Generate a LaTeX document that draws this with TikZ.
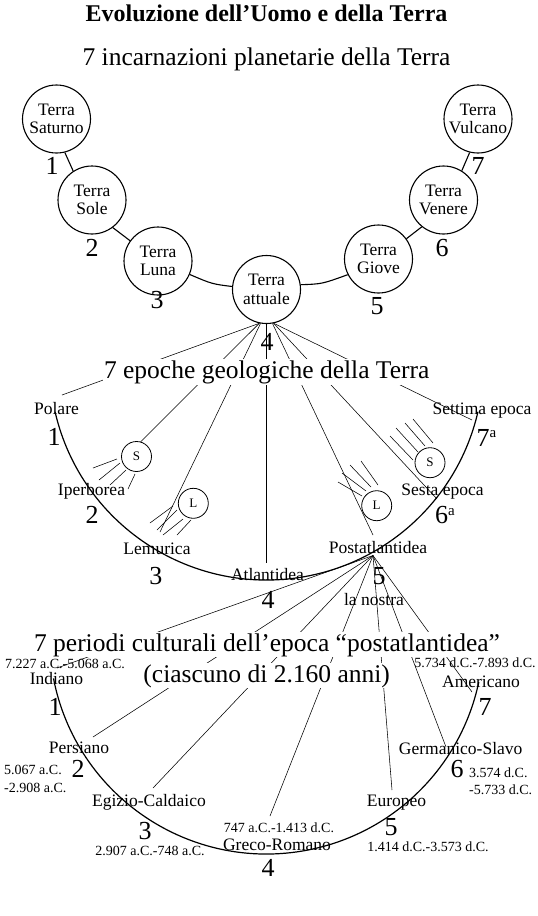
\documentclass[tikz,border=0pt]{standalone}
\usepackage{fontspec}
\setmainfont{Liberation Serif}
\begin{document}
\begin{tikzpicture}[x=1pt,y=-1pt,
  planet/.style={circle,draw,line width=1.1pt,minimum size=68pt,inner sep=0pt,fill=white,align=center,font=\fontsize{17.5}{18.5}\selectfont},
  conn/.style={line width=1.1pt},
  fan/.style={line width=0.55pt},
  ray/.style={line width=0.55pt},
  arcline/.style={line width=1.2pt},
  sec/.style={fill=white,inner sep=1pt,anchor=base,font=\fontsize{25.5}{27}\selectfont},
  lab/.style={inner sep=0pt,anchor=base,font=\fontsize{17.5}{18}\selectfont},
  num/.style={inner sep=0pt,font=\fontsize{26}{26}\selectfont},
  dat/.style={inner sep=0pt,anchor=base,font=\fontsize{14}{14}\selectfont},
  body/.style={circle,draw,line width=0.8pt,minimum size=30pt,inner sep=0pt,fill=white,font=\fontsize{13}{13}\selectfont}]

\path[use as bounding box] (0,0) rectangle (538,916);

% ---------- titles ----------
\node[anchor=base,inner sep=0pt,font=\bfseries\fontsize{24}{24}\selectfont] (title) at (266.5,21) {Evoluzione dell’Uomo e della Terra};
\node[sec] (t1) at (266.5,65) {7 incarnazioni planetarie della Terra};

% ---------- planetary incarnations ----------
\node[planet] (sat) at (56.5,119) {Terra\\Saturno};
\node[planet] (sole) at (92,200) {Terra\\Sole};
\node[planet] (luna) at (158,261) {Terra\\Luna};
\node[planet] (att) at (266.5,289.5) {Terra\\attuale};
\node[planet] (giove) at (378.5,259) {Terra\\Giove};
\node[planet] (venere) at (443.5,200) {Terra\\Venere};
\node[planet] (vulc) at (478,119) {Terra\\Vulcano};

\draw[conn] (sat.-76) -- (sole.123);
\draw[conn] (sole.-53) -- (luna.144);
\draw[conn] (luna.-23) .. controls (212,284) .. (att.175);
\draw[conn] (att.8) .. controls (322,284) .. (giove.207);
\draw[conn] (giove.36) -- (venere.-129);
\draw[conn] (venere.58) -- (vulc.-104);

\node[num] (n1) at (52,166) {1};
\node[num] (n2) at (92,248) {2};
\node[num] (n3) at (157,300) {3};
\node[num] (n4) at (267,341.5) {4};
\node[num] (n5) at (377,306) {5};
\node[num] (n6) at (442,248.5) {6};
\node[num] (n7) at (478,166) {7};

% ---------- fan to the geological epochs ----------
\coordinate (ePol) at (62,395);
\coordinate (eSl) at (132,450.5);
\coordinate (eLl) at (160,532);
\coordinate (eAtl) at (266.5,563);
\coordinate (ePost) at (373,535);
\coordinate (eSr) at (437,499);
\coordinate (eSet) at (472,420);
\draw[fan] (att.-102) -- (ePol);
\draw[fan] (att.-102) -- (eSl);
\draw[fan] (att.-100) -- (eLl);
\draw[fan] (att.south) -- (eAtl);
\draw[fan] (att.-80) -- (ePost);
\draw[fan] (att.-78) -- (eSr);
\draw[fan] (att.-78) -- (eSet);

% epoch arc
\draw[arcline] (266.5,363) ++(167:217) arc[start angle=167,end angle=13,radius=217];

% sun / moon symbols with rays
\draw[ray] (93,468) -- (117,459);
\draw[ray] (99,480) -- (120,463);
\draw[ray] (110,485) -- (126,470);
\draw[ray] (128,489) -- (135,474);
\node[body] (Sl) at (136.5,456.5) {S};

\draw[ray] (150,523) -- (173,506);
\draw[ray] (157,530) -- (177,510);
\draw[ray] (163,535) -- (183,519);
\draw[ray] (177,535) -- (191,520);
\node[body] (Ll) at (193.3,503.3) {L};

\draw[ray] (338,482) -- (362,496);
\draw[ray] (342,473) -- (366,491);
\draw[ray] (350,465) -- (371,487);
\draw[ray] (361,461) -- (378,485);
\node[body] (Lr) at (376.7,505.7) {L};

\draw[ray] (390,436) -- (413,460);
\draw[ray] (396,428) -- (418,452);
\draw[ray] (405,423) -- (425,446);
\draw[ray] (413,419) -- (433,443);
\node[body] (Sr) at (430,462.7) {S};

\node[sec] (t2) at (266.7,378) {7 epoche geologiche della Terra};

\node[lab] (pol) at (56.5,414.5) {Polare};
\node[num] (e1) at (54,437) {1};
\node[lab] (ipe) at (91.5,495) {Iperborea};
\node[num] (e2) at (92,515) {2};
\node[lab] (lem) at (157,554) {Lemurica};
\node[num] (e3) at (155.8,576) {3};
\node[lab] (atl) at (267.5,580) {Atlantidea};
\node[num] (e4) at (268,600) {4};
\node[lab] (post) at (378,553) {Postatlantidea};
\node[num] (e5) at (379,576.5) {5};
\node[lab] (nos) at (374,605) {la nostra};
\node[lab] (ses) at (442.5,495) {Sesta epoca};
\node[num,anchor=base west] (e6) at (435,523) {6\raisebox{8pt}{\fontsize{15}{15}\selectfont a}};
\node[lab] (set) at (482,414.5) {Settima epoca};
\node[num,anchor=base west] (e7) at (476.5,446) {7\raisebox{9pt}{\fontsize{15}{15}\selectfont a}};

% ---------- fan to the cultural periods ----------
\coordinate (pa) at (373,555.5);
\coordinate (cInd) at (57,668);
\coordinate (cPer) at (93,737);
\coordinate (cEgi) at (153,788);
\coordinate (cGre) at (270,816);
\coordinate (cEur) at (392,790);
\coordinate (cGer) at (446,747);
\coordinate (cAme) at (472,692);
\draw[fan] (pa) -- (cInd);
\draw[fan] (pa) -- (cPer);
\draw[fan] (pa) -- (cEgi);
\draw[fan] (pa) -- (cGre);
\draw[fan] (pa) -- (cEur);
\draw[fan] (pa) -- (cGer);
\draw[fan] (pa) -- (cAme);

% cultural arc
\draw[arcline] (266.5,637) ++(169:217) arc[start angle=169,end angle=12,radius=217];

\node[sec] (t3a) at (267,651) {7 periodi culturali dell’epoca “postatlantidea”};
\node[sec] (t3b) at (266.7,682) {(ciascuno di 2.160 anni)};

\node[dat] (d1) at (65,668) {7.227 a.C.-5.068 a.C.};
\node[lab] (ind) at (56.5,684.5) {Indiano};
\node[num] (c1) at (55,707) {1};
\node[lab] (per) at (79,753) {Persiano};
\node[num] (c2) at (78,769) {2};
\node[dat,anchor=base west] (d2a) at (4,774.5) {5.067 a.C.};
\node[dat,anchor=base west] (d2b) at (4,792) {-2.908 a.C.};
\node[lab] (egi) at (149,806.6) {Egizio-Caldaico};
\node[num] (c3) at (145,831) {3};
\node[dat] (d3) at (150,855) {2.907 a.C.-748 a.C.};
\node[dat] (d4) at (279,832.5) {747 a.C.-1.413 d.C.};
\node[lab] (gre) at (277,850) {Greco-Romano};
\node[num] (c4) at (268,868) {4};
\node[lab] (eur) at (396.5,806.6) {Europeo};
\node[num] (c5) at (391,827) {5};
\node[dat] (d5) at (428,851.5) {1.414 d.C.-3.573 d.C.};
\node[lab] (ger) at (460.7,754.6) {Germanico-Slavo};
\node[num] (c6) at (457,769) {6};
\node[dat,anchor=base west] (d6a) at (469,777.5) {3.574 d.C.};
\node[dat,anchor=base west] (d6b) at (469,794.5) {-5.733 d.C.};
\node[dat] (d7) at (475,667.5) {5.734 d.C.-7.893 d.C.};
\node[lab] (ame) at (481,687.5) {Americano};
\node[num] (c7) at (485,707) {7};
\end{tikzpicture}
\end{document}
